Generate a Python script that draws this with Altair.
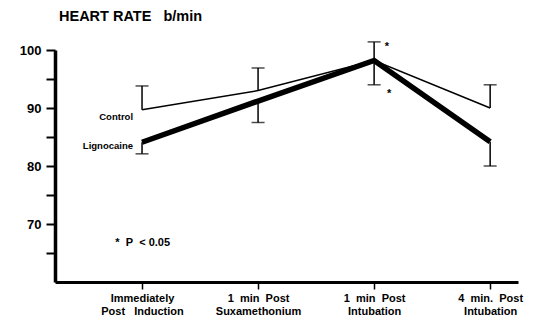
import json
import altair as alt
import pandas as pd

NB = "\u00a0"
categories = [["Immediately", "Post" + NB + NB + NB + "Induction"],
              ["1" + NB + NB + "min" + NB + NB + "Post", "Suxamethonium"],
              ["1" + NB + NB + "min" + NB + NB + "Post", "Intubation"],
              ["4" + NB + NB + "min." + NB + NB + "Post", "Intubation"]]
cat_pos = [1, 2, 3, 4]
control_mean = [89.7, 93.0, 98.2, 90.0]
control_err_end = [93.8, 96.9, 101.4, 94.0]
ligno_mean = [84.1, 91.2, 98.2, 84.2]
ligno_err_end = [82.1, 87.5, 94.0, 80.0]
y_ticks = [65, 70, 75, 80, 85, 90, 95, 100]

rows = []
for i, p in enumerate(cat_pos):
    rows.append(dict(series="Control", x=p, y=control_mean[i], e=control_err_end[i]))
    rows.append(dict(series="Lignocaine", x=p, y=ligno_mean[i], e=ligno_err_end[i]))
df = pd.DataFrame(rows)

FONT = "Liberation Sans"
xscale = alt.Scale(domain=[0.25, 4.24], nice=False, zero=False)
yscale = alt.Scale(domain=[60, 100], nice=False, zero=False)

label_expr = json.dumps(categories) + "[datum.value - 1]"

xaxis = alt.Axis(
    values=cat_pos, labelExpr=label_expr, title=None, grid=False,
    tickSize=7, tickWidth=1.5, tickColor="black", domainWidth=3, domainColor="black",
    labelFont=FONT, labelFontSize=11, labelFontWeight="bold", labelColor="black",
    labelPadding=3, labelLineHeight=13, labelBaseline="top", labelOverlap=False)
yaxis = alt.Axis(
    values=y_ticks,
    labelExpr="datum.value % 10 == 0 ? datum.label : ''", title=None, grid=False,
    tickSize=9, tickWidth=2, tickColor="black", domainWidth=3.5, domainColor="black",
    labelFont=FONT, labelFontSize=13, labelFontWeight="bold", labelColor="black",
    labelPadding=5, labelOverlap=False)


def X(f="x:Q"):
    return alt.X(f, scale=xscale, axis=xaxis)


def Y(f="y:Q"):
    return alt.Y(f, scale=yscale, axis=yaxis)


base = alt.Chart(df)
ctrl = base.transform_filter(alt.datum.series == "Control").mark_line(
    color="black", strokeWidth=1.5).encode(x=X(), y=Y())
err = base.mark_rule(color="black", strokeWidth=1.5).encode(
    x=X(), y=Y(), y2="e:Q")
caps = base.mark_tick(color="black", orient="horizontal", size=13, thickness=1.5).encode(
    x=X(), y=Y("e:Q"))
lig = base.transform_filter(alt.datum.series == "Lignocaine").mark_line(
    color="black", strokeWidth=5.5).encode(x=X(), y=Y())

ann = pd.DataFrame([
    dict(t="Control", x=1, y=88.45),
    dict(t="Lignocaine", x=1, y=83.4),
])
ann_l = alt.Chart(ann).mark_text(font=FONT, fontWeight="bold", fontSize=9.5, align="right",
                                 dx=-9, color="black").encode(x=X(), y=Y(), text="t:N")

pnote = pd.DataFrame([dict(t="*" + NB + NB + "P" + NB + NB + "< 0.05", x=0.77, y=66.7)])
pnote_l = alt.Chart(pnote).mark_text(font=FONT, fontWeight="bold", fontSize=11, align="left",
                                     color="black").encode(x=X(), y=Y(), text="t:N")

stars = pd.DataFrame([dict(t="*", x=3.11, y=100.5), dict(t="*", x=3.13, y=92.4)])
stars_l = alt.Chart(stars).mark_text(font=FONT, fontWeight="bold", fontSize=11, align="center",
                                     color="black").encode(x=X(), y=Y(), text="t:N")

chart = alt.layer(ctrl, err, caps, lig, ann_l, pnote_l, stars_l).properties(
    width=463, height=232,
    title=alt.TitleParams("HEART" + NB + "RATE" + NB + NB + NB + "b/min", anchor="start",
                          frame="group", font=FONT, fontSize=14.5,
                          fontWeight="bold", color="black", offset=17, dx=4),
    autosize=alt.AutoSizeParams(type="none"),
    padding={"left": 47, "top": 42, "right": 10, "bottom": 40},
).configure_view(stroke=None)

chart.save("out.html", embed_options={"renderer": "svg", "actions": False})
